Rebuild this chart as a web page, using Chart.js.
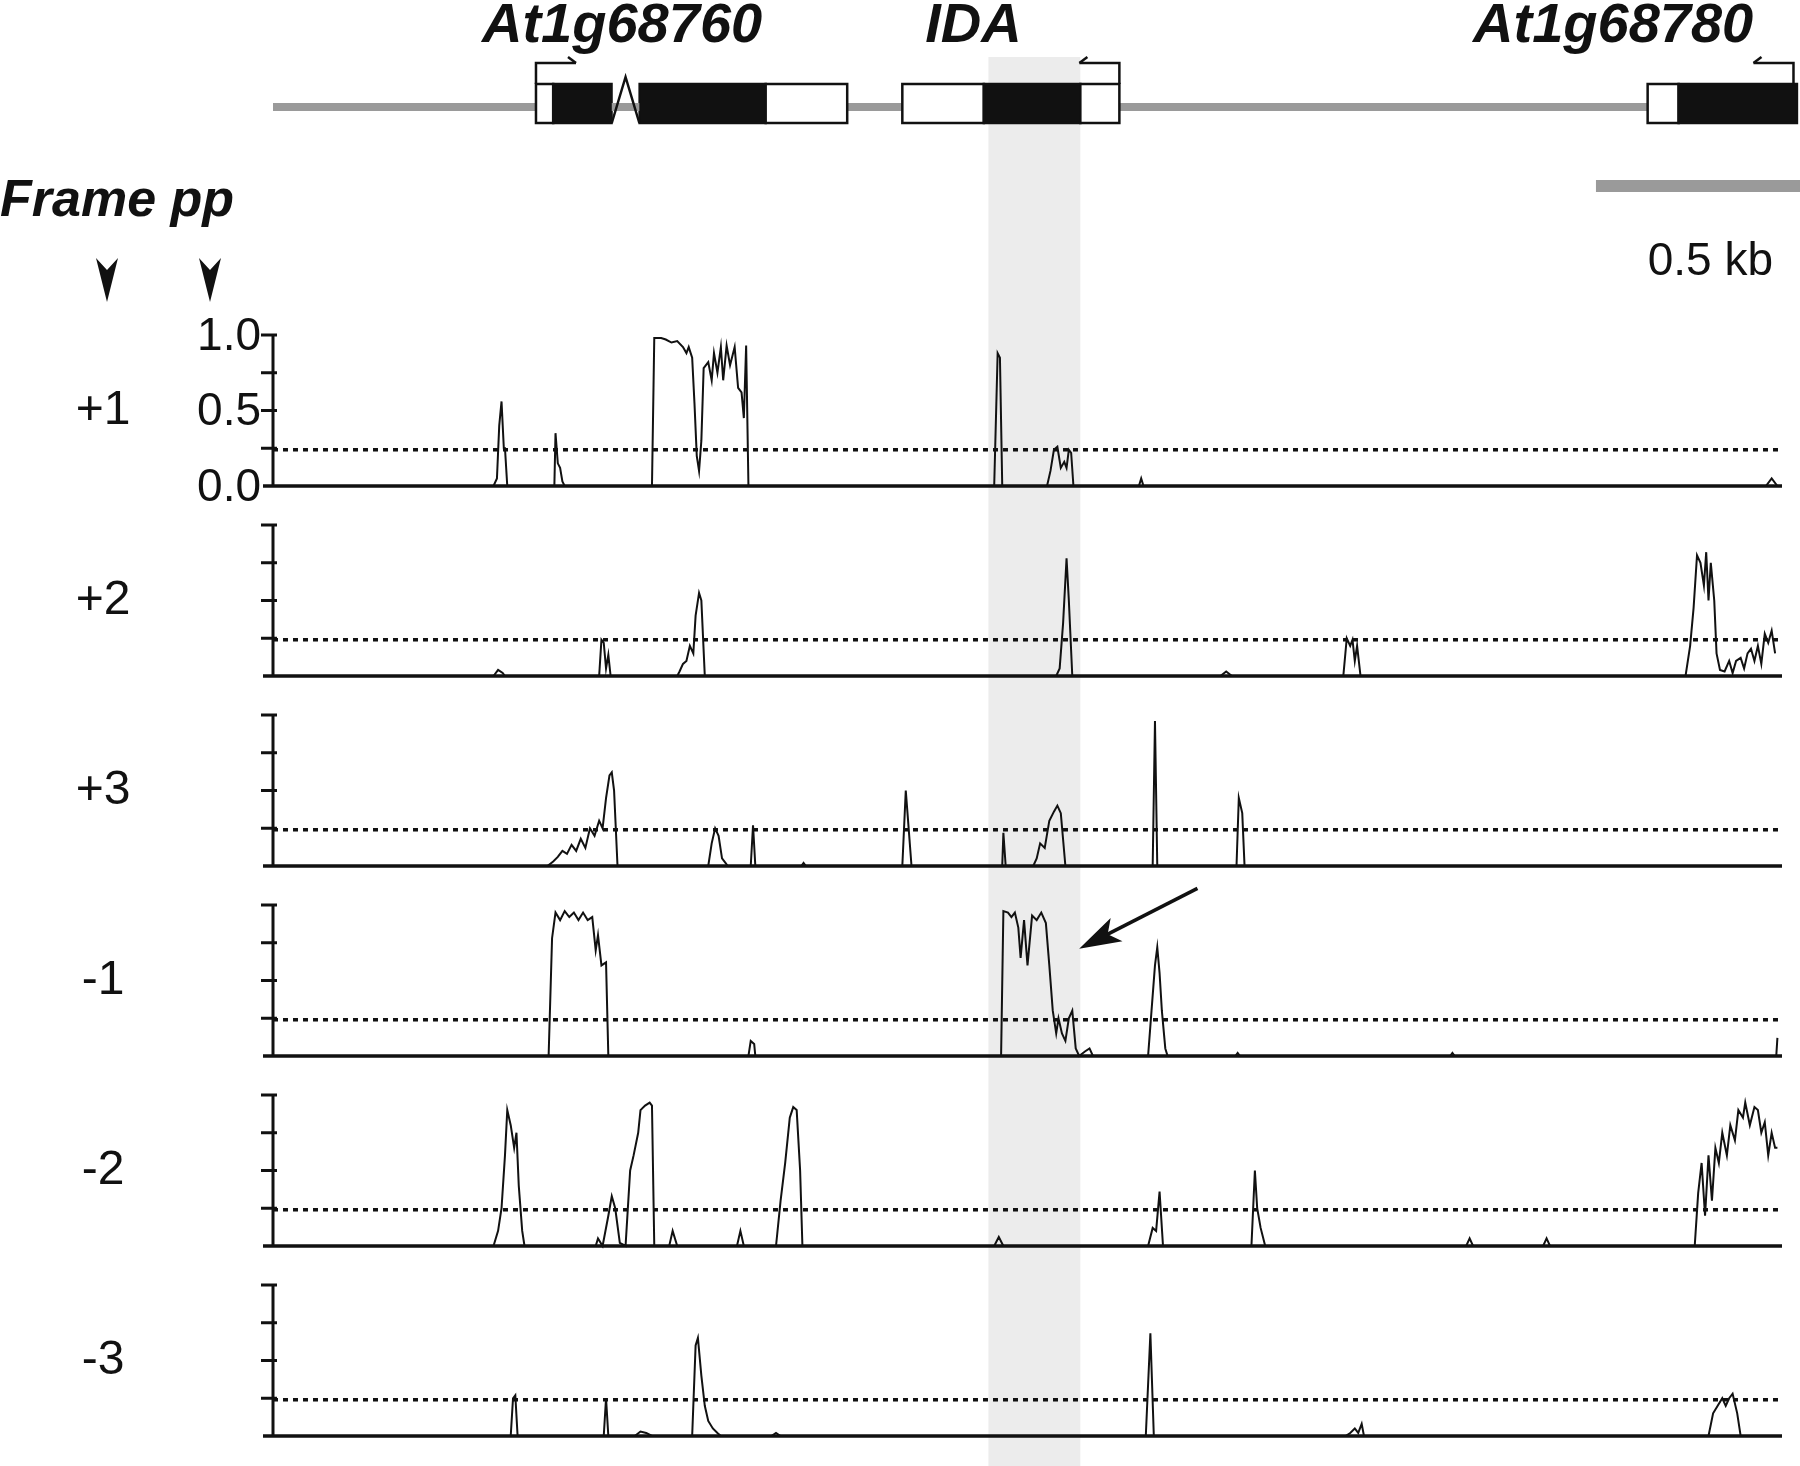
<!DOCTYPE html>
<html><head><meta charset="utf-8">
<script src="https://cdn.jsdelivr.net/npm/chart.js@4"></script>
<style>html,body{margin:0;padding:0;background:#fff}canvas{display:block}</style>
</head><body>
<canvas id="c" width="1800" height="1466"></canvas>
<script>
// Positions are in track units along the locus (178 units = 0.5 kb)
const trackStart = 238, trackEnd = 1552, locusEnd = 1565;
const frameLabels = ["+1","+2","+3","-1","-2","-3"];
const yTickLabels = ["0.0","0.5","1.0"];
const threshold = 0.24;
const genes = ["At1g68760","IDA","At1g68780"];
const geneLabelPos = [542, 848, 1405];
// exons: [start, end, coding(1)/UTR(0)]
const exons1 = [[467,482,0],[482,533,1],[557,667,1],[667,738,0]];
const exonsIDA = [[786,857,0],[857,941,1],[941,975,0]];
const exons3 = [[1435,1462,0],[1462,1565,1]];
const intron1 = [533,545,557];
const tss = [[467,1],[975,-1],[1562,-1]];
const shadeRange = [861,941];
const scaleBar = [1390,1568];
const scaleBarLabel = "0.5 kb";

const f1 = [[238,0],[430,0],[433,0.05],[435,0.4],[437,0.56],[439,0.25],[440,0.25],[442,0],[483,0],[484,0.35],[486,0.15],[488,0.12],[490,0.03],[492,0],
[568,0],[570,0.98],[576,0.98],[580,0.97],[585,0.95],[590,0.96],[595,0.92],[598,0.88],[600,0.92],[603,0.85],[605,0.55],[607,0.2],[609,0.1],[611,0.3],[613,0.78],[617,0.82],[620,0.7],[622,0.88],[625,0.75],[628,0.92],[630,0.7],[633,0.93],[636,0.8],[640,0.92],[643,0.65],[646,0.62],[648,0.45],[650,0.93],[652,0],
[866,0],[869,0.88],[871,0.85],[873,0],[912,0],[915,0.1],[918,0.24],[921,0.26],[924,0.12],[927,0.16],[929,0.12],[931,0.24],[933,0.22],[935,0],
[992,0],[994,0.05],[996,0],[1538,0],[1543,0.05],[1548,0],[1552,0]];
const f2 = [[238,0],[430,0],[434,0.04],[438,0.02],[440,0],[522,0],[524,0.24],[526,0.22],[528,0.05],[530,0.14],[532,0],[590,0],
[592,0.03],[595,0.08],[598,0.1],[601,0.2],[604,0.15],[606,0.4],[609,0.55],[611,0.5],[614,0],
[920,0],[923,0.05],[926,0.35],[929,0.78],[931,0.5],[934,0],[1063,0],[1068,0.03],[1073,0],[1170,0],[1173,0.25],[1176,0.2],[1178,0.24],[1180,0.1],[1182,0.2],[1185,0],
[1468,0],[1472,0.2],[1475,0.45],[1478,0.8],[1481,0.75],[1484,0.6],[1486,0.82],[1488,0.5],[1490,0.75],[1493,0.5],[1495,0.15],[1498,0.04],[1502,0.03],[1506,0.1],[1509,0.02],[1512,0.1],[1516,0.12],[1519,0.05],[1522,0.15],[1525,0.18],[1528,0.1],[1531,0.2],[1534,0.08],[1537,0.28],[1540,0.22],[1543,0.3],[1546,0.15]];
const f3 = [[238,0],[477,0],[482,0.03],[486,0.06],[490,0.1],[494,0.08],[498,0.14],[502,0.1],[506,0.18],[510,0.12],[514,0.25],[518,0.2],[522,0.3],[525,0.25],[528,0.45],[531,0.6],[533,0.62],[535,0.5],[538,0],
[617,0],[620,0.15],[623,0.25],[626,0.2],[629,0.05],[632,0.02],[634,0],[654,0],[656,0.27],[658,0],[698,0],[700,0.02],[702,0],
[786,0],[789,0.5],[791,0.3],[794,0],[873,0],[874,0.22],[876,0],[900,0],[903,0.05],[906,0.15],[910,0.12],[914,0.3],[918,0.36],[921,0.4],[924,0.35],[928,0],
[1004,0],[1006,0.96],[1008,0],[1077,0],[1079,0.45],[1082,0.35],[1084,0],[1552,0]];
const fm1 = [[238,0],[478,0],[481,0.78],[484,0.95],[488,0.9],[492,0.96],[496,0.92],[500,0.95],[504,0.9],[508,0.95],[512,0.9],[516,0.92],[519,0.7],[521,0.8],[524,0.6],[528,0.62],[530,0],
[652,0],[654,0.1],[657,0.08],[658,0],[872,0],[874,0.96],[878,0.95],[881,0.92],[884,0.95],[887,0.85],[889,0.65],[892,0.9],[895,0.6],[899,0.93],[903,0.9],[907,0.95],[911,0.88],[914,0.6],[917,0.3],[920,0.15],[922,0.25],[925,0.15],[928,0.1],[931,0.25],[934,0.3],[937,0.05],[940,0],[945,0.03],[949,0.05],[952,0],
[1000,0],[1003,0.3],[1006,0.6],[1008,0.72],[1010,0.55],[1012,0.3],[1015,0.05],[1017,0],[1076,0],[1078,0.02],[1080,0],[1263,0],[1265,0.02],[1267,0],[1547,0],[1548,0.12]];
const fm2 = [[238,0],[430,0],[434,0.1],[437,0.25],[440,0.6],[442,0.9],[445,0.8],[448,0.65],[450,0.75],[452,0.4],[455,0.1],[457,0],[519,0],
[521,0.05],[525,0],[530,0.2],[533,0.33],[536,0.25],[540,0.02],[545,0],[549,0.5],[552,0.6],[556,0.75],[558,0.9],[562,0.93],[566,0.95],[568,0.93],[570,0],
[583,0],[586,0.1],[590,0],[642,0],[645,0.1],[648,0],[676,0],[680,0.3],[684,0.55],[688,0.85],[691,0.92],[694,0.9],[697,0.5],[699,0],
[866,0],[870,0.06],[874,0],[1000,0],[1004,0.12],[1007,0.1],[1010,0.36],[1013,0],[1090,0],[1093,0.5],[1095,0.25],[1098,0.12],[1102,0],
[1277,0],[1280,0.05],[1283,0],[1344,0],[1347,0.05],[1350,0],
[1476,0],[1479,0.35],[1482,0.55],[1485,0.2],[1488,0.6],[1491,0.3],[1494,0.65],[1497,0.55],[1500,0.75],[1504,0.6],[1507,0.8],[1511,0.7],[1514,0.9],[1518,0.85],[1520,0.95],[1524,0.8],[1528,0.92],[1531,0.9],[1534,0.75],[1537,0.82],[1540,0.6],[1543,0.75],[1546,0.65],[1548,0.65]];
const fm3 = [[238,0],[445,0],[447,0.25],[449,0.27],[451,0],[526,0],[528,0.25],[530,0],[553,0],[558,0.03],[563,0.02],[568,0],
[603,0],[606,0.6],[608,0.65],[611,0.4],[614,0.2],[617,0.1],[621,0.05],[625,0.02],[628,0],[672,0],[676,0.02],[680,0],
[998,0],[1002,0.68],[1005,0],[1172,0],[1176,0.02],[1180,0.05],[1183,0.02],[1186,0.08],[1188,0],
[1488,0],[1492,0.15],[1496,0.2],[1500,0.25],[1503,0.2],[1506,0.25],[1509,0.28],[1513,0.15],[1516,0],[1552,0]];
const frames = [f1,f2,f3,fm1,fm2,fm3];
const arrowFrom = [1043,1.11], arrowTo = [940,0.71]; // in frame -1

const P = 190/151; // panel height in value units
const off = k => -k*P;
const datasets = [];
frames.forEach((f,k)=>{
  datasets.push({data:f.map(p=>({x:p[0],y:p[1]+off(k)})),borderColor:'#111',borderWidth:2,pointRadius:0,tension:0,fill:false});
  datasets.push({data:[{x:trackStart,y:threshold+off(k)},{x:trackEnd,y:threshold+off(k)}],borderColor:'#111',borderWidth:3.5,borderDash:[5,5],pointRadius:0});
});

const deco = {
  id:'deco',
  beforeDatasetsDraw(chart){
    const {ctx, scales:{x,y}} = chart;
    ctx.save();
    ctx.fillStyle = '#ececec';
    const s0=x.getPixelForValue(shadeRange[0]), s1=x.getPixelForValue(shadeRange[1]);
    ctx.fillRect(s0,57,s1-s0,1466-57);
    ctx.strokeStyle='#111'; ctx.fillStyle='#111';
    frames.forEach((f,k)=>{
      const b=y.getPixelForValue(off(k)), t=y.getPixelForValue(1+off(k));
      const ax=x.getPixelForValue(trackStart);
      ctx.lineWidth=3.5;
      ctx.beginPath(); ctx.moveTo(ax-10,b); ctx.lineTo(x.getPixelForValue(trackEnd),b); ctx.stroke();
      ctx.lineWidth=3;
      ctx.beginPath(); ctx.moveTo(ax,b); ctx.lineTo(ax,t); ctx.stroke();
      [0.25,0.5,0.75,1].forEach(v=>{const py=y.getPixelForValue(v+off(k));ctx.beginPath();ctx.moveTo(ax-12,py);ctx.lineTo(ax+4,py);ctx.stroke();});
      ctx.font='48px "Liberation Sans", Arial'; ctx.textAlign='center'; ctx.textBaseline='middle';
      ctx.fillText(frameLabels[k],103,y.getPixelForValue(0.5+off(k)));
      if(k===0){
        ctx.font='46px "Liberation Sans", Arial'; ctx.textAlign='right';
        [0,0.5,1].forEach((v,i)=>ctx.fillText(yTickLabels[i],ax-12,y.getPixelForValue(v)+2));
      }
    });
    // gene model
    const gy=107, bt=84, bb=123;
    ctx.fillStyle='#9a9a9a';
    ctx.fillRect(x.getPixelForValue(trackStart),gy-4,x.getPixelForValue(locusEnd)-x.getPixelForValue(trackStart),8);
    ctx.lineWidth=2.5; ctx.strokeStyle='#111';
    [exons1,exonsIDA,exons3].forEach(ex=>ex.forEach(e=>{
      const a=x.getPixelForValue(e[0]), c=x.getPixelForValue(e[1]);
      ctx.fillStyle=e[2]?'#111':'#fff'; ctx.fillRect(a,bt,c-a,bb-bt); ctx.strokeRect(a,bt,c-a,bb-bt);
    }));
    ctx.fillStyle='#fff';
    const i0=x.getPixelForValue(intron1[0]),i1=x.getPixelForValue(intron1[1]),i2=x.getPixelForValue(intron1[2]);
    ctx.fillRect(i0+1,bt-2,i2-i0-2,bb-bt+4);
    ctx.fillStyle='#9a9a9a'; ctx.fillRect(i0,gy-4,i2-i0,8);
    ctx.beginPath(); ctx.moveTo(i0,bb); ctx.lineTo(i1,77); ctx.lineTo(i2,bb); ctx.stroke();
    tss.forEach(([p,d])=>{
      const px=x.getPixelForValue(p), ex=px+d*40;
      ctx.lineWidth=2.5; ctx.beginPath(); ctx.moveTo(px,bt); ctx.lineTo(px,63); ctx.lineTo(ex,63); ctx.stroke();
      ctx.beginPath(); ctx.moveTo(ex,63); ctx.lineTo(ex-d*8,57); ctx.stroke();
    });
    ctx.fillStyle='#111'; ctx.font='bold italic 56px "Liberation Sans", Arial'; ctx.textAlign='center'; ctx.textBaseline='alphabetic';
    genes.forEach((g,i)=>ctx.fillText(g,x.getPixelForValue(geneLabelPos[i]),42));
    ctx.fillStyle='#9a9a9a';
    const sb0=x.getPixelForValue(scaleBar[0]), sb1=x.getPixelForValue(scaleBar[1]);
    ctx.fillRect(sb0,180,sb1-sb0,12);
    ctx.fillStyle='#111'; ctx.font='46px "Liberation Sans", Arial'; ctx.textAlign='right'; ctx.textBaseline='middle';
    ctx.fillText(scaleBarLabel,1773,262);
    ctx.font='bold italic 52px "Liberation Sans", Arial'; ctx.textAlign='left'; ctx.textBaseline='alphabetic';
    ctx.fillText('Frame pp',0,216);
    [107,210].forEach(cx=>{ctx.beginPath();ctx.moveTo(cx,302);ctx.lineTo(cx-11,258);ctx.lineTo(cx,270);ctx.lineTo(cx+11,258);ctx.closePath();ctx.fill();});
    ctx.restore();
  },
  afterDatasetsDraw(chart){
    const {ctx, scales:{x,y}} = chart;
    const x0=x.getPixelForValue(arrowFrom[0]), y0=y.getPixelForValue(arrowFrom[1]+off(3));
    const x1=x.getPixelForValue(arrowTo[0]), y1=y.getPixelForValue(arrowTo[1]+off(3));
    const ang=Math.atan2(y1-y0,x1-x0);
    ctx.save(); ctx.strokeStyle='#111'; ctx.fillStyle='#111'; ctx.lineWidth=3.5;
    ctx.beginPath(); ctx.moveTo(x0,y0); ctx.lineTo(x1-Math.cos(ang)*25,y1-Math.sin(ang)*25); ctx.stroke();
    ctx.translate(x1,y1); ctx.rotate(ang);
    ctx.beginPath(); ctx.moveTo(0,0); ctx.lineTo(-42,-13); ctx.lineTo(-32,0); ctx.lineTo(-42,13); ctx.closePath(); ctx.fill();
    ctx.restore();
  }
};

new Chart(document.getElementById('c'),{
  type:'line',
  data:{datasets},
  options:{
    responsive:false, animation:false, devicePixelRatio:1,
    layout:{padding:{left:273,right:18,top:296,bottom:30}},
    plugins:{legend:{display:false},tooltip:{enabled:false}},
    scales:{
      x:{type:'linear',min:trackStart,max:trackEnd,display:false},
      y:{min:-5*P,max:P,display:false}
    }
  },
  plugins:[deco]
});
</script>
</body></html>
